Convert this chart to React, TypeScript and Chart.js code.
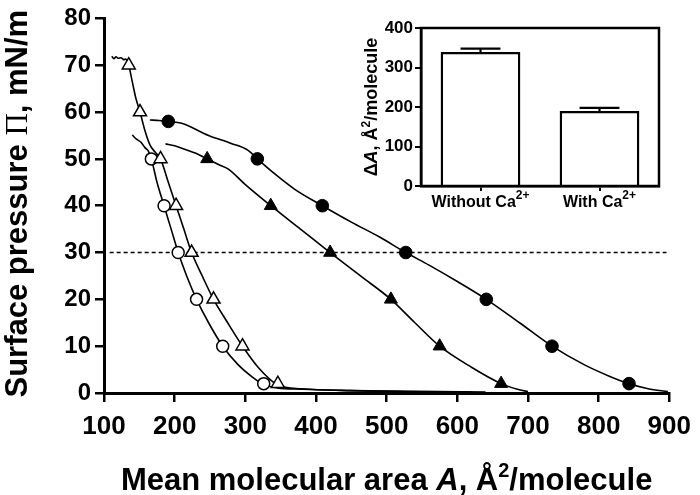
import React, { useEffect, useRef } from 'react';
import { Chart, registerables } from 'chart.js';
Chart.register(...registerables);

const FONT = "'Liberation Sans', Arial, Helvetica, sans-serif";
const SERIF = "'Liberation Serif', 'Times New Roman', serif";

// ---- Main isotherms (A in Å²/molecule, Π in mN/m) ----
// Open circles
const openCircleMarkA = [167, 185, 205, 231, 268, 326];
const openCircleMarkP = [50, 40, 30, 20, 10, 2];
const openCircleCurveA = [140, 146, 152, 158, 163, 167, 175, 185, 195, 205, 217, 231, 248, 268, 290, 310, 326, 345, 380, 450, 550, 620];
const openCircleCurveP = [55.1, 54.2, 53.6, 52.4, 51.6, 50, 45, 40, 35, 30, 25, 20, 15, 10, 6, 3.4, 1.8, 1.1, 0.8, 0.5, 0.3, 0.2];

// Open triangles
const openTriMarkA = [135, 151, 180, 202, 224, 255, 296, 346];
const openTriMarkP = [70, 60, 50, 40, 30, 20, 10, 2];
const openTriCurveA = [111, 114, 117, 120, 124, 128, 131, 135, 140, 145, 151, 158, 165, 172, 180, 191, 202, 213, 224, 239, 255, 275, 296, 318, 346, 380, 450, 550, 640];
const openTriCurveP = [71.9, 71.4, 71.8, 71.5, 71.6, 71.2, 71.3, 70, 66.5, 63, 60, 56, 53, 51.5, 50, 45, 40, 35, 30, 25, 20, 15, 10, 5.5, 1.7, 0.9, 0.5, 0.3, 0.2];

// Filled triangles
const filledTriMarkA = [246, 336, 420, 506, 575, 662];
const filledTriMarkP = [50, 40, 30, 20, 10, 2];
const filledTriCurveA = [187, 200, 215, 230, 246, 262, 276, 300, 336, 378, 420, 463, 506, 540, 575, 620, 662, 685, 700];
const filledTriCurveP = [53.2, 52.8, 52, 51.2, 50, 48.8, 47.8, 44.5, 40, 35, 30, 25, 20, 15, 10, 5.5, 2, 0.8, 0.3];

// Filled circles
const filledCircleMarkA = [191, 317, 409, 527, 641, 734, 843];
const filledCircleMarkP = [58, 50, 40, 30, 20, 10, 2];
const filledCircleCurveA = [165, 178, 191, 210, 248, 280, 304, 317, 340, 370, 409, 450, 490, 527, 560, 600, 641, 688, 734, 780, 815, 843, 870, 898];
const filledCircleCurveP = [58.3, 58.2, 58, 57.6, 55, 53.3, 51.8, 50, 47, 43.5, 40, 36.5, 33.3, 30, 27.3, 23.8, 20, 15, 10, 6, 3.6, 2, 0.9, 0.3];

// Reference line at 30 mN/m
const refLineA = [108, 896];
const refLineP = [30, 30];

// Axis ranges
const xMin = 100, xMax = 900, xStep = 100;
const yMin = 0, yMax = 80, yStep = 10;

// ---- Inset bar chart ----
const insetLabels = ['Without Ca', 'With Ca'];
const insetLabelSup = ['2+', '2+'];
const insetValues = [339, 190];
const insetErrors = [9, 8];
const insetYMin = 0, insetYMax = 400, insetYStep = 100;

const pts = (xs: number[], ys: number[]) => xs.map((x, i) => ({ x, y: ys[i] }));

type Seg = { t: string; font: string; dy?: number };
function drawRich(ctx: CanvasRenderingContext2D, segs: Seg[], cx: number, cy: number, rotate = false) {
  ctx.save();
  ctx.translate(cx, cy);
  if (rotate) ctx.rotate(-Math.PI / 2);
  let total = 0;
  for (const s of segs) { ctx.font = s.font; total += ctx.measureText(s.t).width; }
  let x = -total / 2;
  ctx.fillStyle = '#000';
  ctx.textBaseline = 'alphabetic';
  ctx.textAlign = 'left';
  for (const s of segs) {
    ctx.font = s.font;
    ctx.fillText(s.t, x, s.dy || 0);
    x += ctx.measureText(s.t).width;
  }
  ctx.restore();
}

const axisGrid = {
  display: true,
  drawOnChartArea: false,
  drawTicks: true,
  tickLength: 9,
  color: '#000',
  lineWidth: 2.5,
};

export default function App() {
  const mainRef = useRef<HTMLCanvasElement>(null);
  const insetRef = useRef<HTMLCanvasElement>(null);

  useEffect(() => {
    const titlePlugin = {
      id: 'mainTitles',
      afterDraw(chart: any) {
        const ctx = chart.ctx as CanvasRenderingContext2D;
        const ca = chart.chartArea;
        const cx = (ca.left + ca.right) / 2;
        drawRich(ctx, [
          { t: 'Mean molecular area ', font: `bold 31px ${FONT}` },
          { t: 'A', font: `italic bold 31px ${FONT}` },
          { t: ', Å', font: `bold 31px ${FONT}` },
          { t: '2', font: `bold 20px ${FONT}`, dy: -13 },
          { t: '/molecule', font: `bold 31px ${FONT}` },
        ], cx, 490);
        const cy = (ca.top + ca.bottom) / 2;
        drawRich(ctx, [
          { t: 'Surface pressure ', font: `bold 31px ${FONT}` },
          { t: 'Π', font: `31px ${SERIF}` },
          { t: ', mN/m', font: `bold 31px ${FONT}` },
        ], 27, cy - 2, true);
      },
    };

    const main = new Chart(mainRef.current!, {
      type: 'line',
      data: {
        datasets: [
          {
            label: 'filled circles', data: pts(filledCircleMarkA, filledCircleMarkP), showLine: false,
            pointStyle: 'circle', pointRadius: 6.3, pointBackgroundColor: '#000', pointBorderColor: '#000', pointBorderWidth: 1,
          },
          {
            label: 'filled triangles', data: pts(filledTriMarkA, filledTriMarkP), showLine: false,
            pointStyle: 'triangle', pointRadius: 7.5, pointBackgroundColor: '#000', pointBorderColor: '#000', pointBorderWidth: 1,
          },
          {
            label: 'open triangles', data: pts(openTriMarkA, openTriMarkP), showLine: false,
            pointStyle: 'triangle', pointRadius: 7.5, pointBackgroundColor: '#fff', pointBorderColor: '#000', pointBorderWidth: 1.5,
          },
          {
            label: 'open circles', data: pts(openCircleMarkA, openCircleMarkP), showLine: false,
            pointStyle: 'circle', pointRadius: 6, pointBackgroundColor: '#fff', pointBorderColor: '#000', pointBorderWidth: 1.5,
          },
          { label: 'c1', data: pts(filledCircleCurveA, filledCircleCurveP), borderColor: '#000', borderWidth: 1.6, pointRadius: 0, cubicInterpolationMode: 'monotone' },
          { label: 'c2', data: pts(filledTriCurveA, filledTriCurveP), borderColor: '#000', borderWidth: 1.6, pointRadius: 0, cubicInterpolationMode: 'monotone' },
          { label: 'c3', data: pts(openTriCurveA, openTriCurveP), borderColor: '#000', borderWidth: 1.6, pointRadius: 0, cubicInterpolationMode: 'monotone' },
          { label: 'c4', data: pts(openCircleCurveA, openCircleCurveP), borderColor: '#000', borderWidth: 1.6, pointRadius: 0, cubicInterpolationMode: 'monotone' },
          { label: 'ref', data: pts(refLineA, refLineP), borderColor: '#000', borderWidth: 1.4, borderDash: [4, 3], pointRadius: 0 },
        ] as any,
      },
      options: {
        animation: false,
        responsive: false,
        events: [],
        layout: { padding: { top: 15, right: 24, left: 0, bottom: 0 } },
        plugins: { legend: { display: false }, tooltip: { enabled: false } },
        scales: {
          x: {
            type: 'linear', min: xMin, max: xMax,
            ticks: { stepSize: xStep, color: '#000', font: { family: FONT, size: 26, weight: 'bold' }, padding: 9, maxRotation: 0, autoSkip: false },
            grid: axisGrid as any,
            border: { display: true, color: '#000', width: 3 },
            afterFit: (s: any) => { s.height = 102; },
          },
          y: {
            type: 'linear', min: yMin, max: yMax,
            ticks: { stepSize: yStep, color: '#000', font: { family: FONT, size: 24, weight: 'bold' }, padding: 4, autoSkip: false },
            grid: axisGrid as any,
            border: { display: true, color: '#000', width: 3 },
            afterFit: (s: any) => { s.width = 104; },
          },
        },
      } as any,
      plugins: [titlePlugin],
    });

    const insetPlugin = {
      id: 'insetExtras',
      afterDatasetsDraw(chart: any) {
        const ctx = chart.ctx as CanvasRenderingContext2D;
        const meta = chart.getDatasetMeta(0);
        const ys = chart.scales.y;
        ctx.save();
        ctx.strokeStyle = '#000';
        ctx.lineWidth = 2.2;
        meta.data.forEach((bar: any, i: number) => {
          const x = bar.x;
          const yv = ys.getPixelForValue(insetValues[i]);
          const ye = ys.getPixelForValue(insetValues[i] + insetErrors[i]);
          const half = bar.width / 4;
          ctx.beginPath();
          ctx.moveTo(x, yv);
          ctx.lineTo(x, ye);
          ctx.moveTo(x - half, ye);
          ctx.lineTo(x + half, ye);
          ctx.stroke();
        });
        ctx.restore();
      },
      afterDraw(chart: any) {
        const ctx = chart.ctx as CanvasRenderingContext2D;
        const ca = chart.chartArea;
        ctx.save();
        ctx.strokeStyle = '#000';
        ctx.lineWidth = 2.5;
        ctx.strokeRect(ca.left, ca.top, ca.right - ca.left, ca.bottom - ca.top);
        ctx.restore();
        const xs = chart.scales.x;
        insetLabels.forEach((lab, i) => {
          const x = xs.getPixelForTick(i);
          drawRich(ctx, [
            { t: lab, font: `bold 16px ${FONT}` },
            { t: insetLabelSup[i], font: `bold 12px ${FONT}`, dy: -8 },
          ], x, ca.bottom + 21);
        });
        drawRich(ctx, [
          { t: 'Δ', font: `bold 18px ${FONT}` },
          { t: 'A', font: `italic bold 18px ${FONT}` },
          { t: ', Å', font: `bold 18px ${FONT}` },
          { t: '2', font: `bold 12px ${FONT}`, dy: -7 },
          { t: '/molecule', font: `bold 18px ${FONT}` },
        ], 37, (ca.top + ca.bottom) / 2, true);
      },
    };

    const inset = new Chart(insetRef.current!, {
      type: 'bar',
      data: {
        labels: insetLabels,
        datasets: [{
          data: insetValues,
          backgroundColor: '#fff',
          borderColor: '#000',
          borderWidth: 2.5,
          borderSkipped: 'start',
          categoryPercentage: 1,
          barPercentage: 0.67,
        }],
      },
      options: {
        animation: false,
        responsive: false,
        events: [],
        layout: { padding: { top: 28, right: 31, left: 0, bottom: 0 } },
        plugins: { legend: { display: false }, tooltip: { enabled: false } },
        scales: {
          x: {
            type: 'category',
            ticks: { color: 'rgba(0,0,0,0)', font: { family: FONT, size: 16, weight: 'bold' } },
            grid: { display: true, offset: false, drawOnChartArea: false, drawTicks: true, tickLength: 5, color: '#000', lineWidth: 2 },
            border: { display: true, color: '#000', width: 2.5 },
            afterFit: (s: any) => { s.height = 44; },
          },
          y: {
            type: 'linear', min: insetYMin, max: insetYMax,
            ticks: { stepSize: insetYStep, color: '#000', font: { family: FONT, size: 17, weight: 'bold' }, padding: 2 },
            grid: { display: true, drawOnChartArea: false, drawTicks: true, tickLength: 6, color: '#000', lineWidth: 2 },
            border: { display: true, color: '#000', width: 2.5 },
            afterFit: (s: any) => { s.width = 81; },
          },
        },
      } as any,
      plugins: [insetPlugin],
    });

    return () => { main.destroy(); inset.destroy(); };
  }, []);

  return (
    <div style={{ position: 'absolute', left: 0, top: 0, width: 700, height: 495, background: '#fff' }}>
      <canvas ref={mainRef} width={700} height={495} style={{ position: 'absolute', left: 0, top: 0, display: 'block' }} />
      <canvas ref={insetRef} width={350} height={230} style={{ position: 'absolute', left: 340, top: 0, display: 'block' }} />
    </div>
  );
}
